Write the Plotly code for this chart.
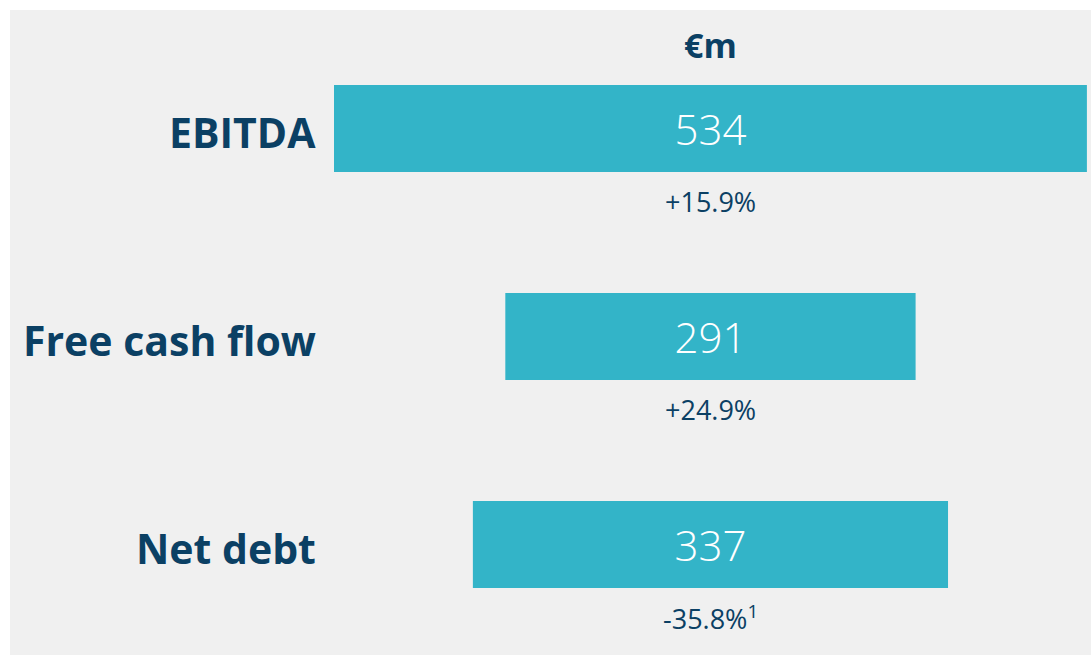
import plotly.graph_objects as go

categories = ["EBITDA", "Free cash flow", "Net debt"]
values = [534, 291, 337]
changes = ["+15.9%", "+24.9%", "-35.8%<sup>1</sup>"]
unit_label = "€m"

NAVY = "#0b4064"
BAR = "#33b4c8"
BG = "#f0f0f0"
FONT = "Open Sans, Noto Sans, sans-serif"

fig = go.Figure()
fig.add_trace(go.Bar(
    y=categories,
    x=values,
    base=[-v / 2 for v in values],
    orientation="h",
    width=0.418,
    marker=dict(color=BAR, line=dict(width=0)),
    text=[str(v) for v in values],
    textposition="inside",
    insidetextanchor="middle",
    textangle=0,
    textfont=dict(color="white", size=42, family=FONT, weight=300),
    hoverinfo="skip",
))

annotations = []
for cat, ch in zip(categories, changes):
    annotations.append(dict(
        x=-278.4, y=cat, xref="x", yref="y", text=cat, showarrow=False,
        xanchor="right", yanchor="middle", yshift=-3,
        font=dict(family=FONT, size=41, color=NAVY, weight="bold"),
    ))
    annotations.append(dict(
        x=0, y=cat, xref="x", yref="y", text=ch, showarrow=False,
        xanchor="center", yanchor="middle", yshift=-73,
        font=dict(family=FONT, size=27, color=NAVY),
    ))
annotations.append(dict(
    x=0, y=-0.40, xref="x", yref="y", text=unit_label, showarrow=False,
    xanchor="center", yanchor="middle",
    font=dict(family=FONT, size=34, color=NAVY, weight="bold"),
))

fig.update_layout(
    width=1091, height=655,
    margin=dict(l=10, r=0, t=10, b=0),
    paper_bgcolor="white",
    plot_bgcolor=BG,
    showlegend=False,
    annotations=annotations,
    xaxis=dict(range=[-496.8, 269.9], visible=False, fixedrange=True),
    yaxis=dict(categoryorder="array", categoryarray=categories,
               range=[2.531, -0.5697], visible=False, fixedrange=True),
)

fig.write_html(
    "out.html",
    config={"displayModeBar": False},
    post_script="document.body.style.margin='0';document.body.style.overflow='hidden';",
)
